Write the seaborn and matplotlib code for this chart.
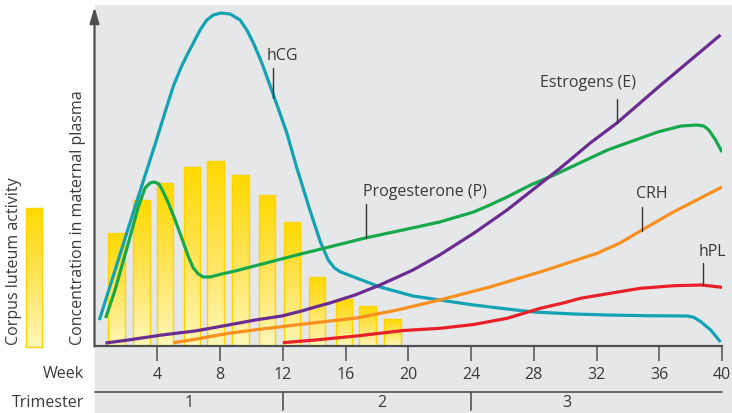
import numpy as np
import pandas as pd
import matplotlib
matplotlib.use("Agg")
import matplotlib.pyplot as plt
from matplotlib.colors import LinearSegmentedColormap
from matplotlib.patches import Rectangle
import seaborn as sns

# ---- data (weeks of gestation, relative concentration units) ----
bar_weeks = [1.4, 3.0, 4.5, 6.2, 7.7, 9.3, 11.0, 12.6, 14.2, 15.9, 17.4, 19.0]
bar_activity = [113, 146, 163, 179, 185, 171, 151, 124, 69, 47, 40, 27]

hcg_weeks = [0.31, 2.48, 3.01, 3.97, 4.5, 5.03, 5.5, 5.9, 6.3, 6.73, 7.16, 7.58, 8.07,
             8.64, 9.28, 9.71, 10.13, 10.67, 11.2, 11.7, 12.26, 12.9, 13.75, 14.4,
             14.9, 15.3, 15.7, 16.7, 18.2, 20.3, 22.0, 24.17, 26.3, 28.0, 30.55,
             32.7, 35.2, 37.78, 38.2, 38.65, 39.28, 39.9]
hcg_vals = [26, 134, 160, 207, 234, 260, 278, 291, 303, 316, 326, 331, 333,
            332, 326, 316, 303, 283, 260, 238, 213, 178, 135, 104,
            86, 78, 74, 68, 59, 50, 46, 41, 37, 34, 32,
            31, 30.3, 30, 28.7, 24.3, 16, 4]

prog_weeks = [0.71, 1.31, 2.16, 2.79, 3.22, 3.54, 3.82, 4.11, 4.39, 4.71, 5.14, 5.56,
              5.99, 6.3, 6.62, 6.94, 7.37, 8.11, 8.96, 12.9, 17.26, 20.55, 22.0,
              24.17, 25.2, 26.3, 27.8, 29.3, 32.7, 35.9, 37.4, 38.4, 38.84, 39.16,
              39.59, 40.0]
prog_vals = [28, 56, 103, 139, 158, 163, 164, 162, 154, 143, 126, 108,
             89, 78, 72, 69, 69, 72, 75, 91, 108, 119, 124,
             134, 141, 149, 161, 171, 196, 214, 220, 221, 220, 216,
             206, 194]

estr_weeks = [0.7, 2.16, 4.29, 6.41, 8.54, 10.24, 11.94, 13.2, 14.07, 15.0, 16.6,
              18.2, 20.3, 22.0, 24.2, 26.3, 29.7, 31.6, 33.3, 36.1, 39.9]
estr_vals = [3, 6, 11, 15, 21, 26, 30, 35, 39, 43, 51,
             61, 76, 91, 113, 136, 178, 203, 223, 261, 311]

crh_weeks = [5.03, 6.41, 8.54, 10.67, 12.79, 14.07, 16.7, 19.3, 22.0, 25.2, 28.4,
             32.04, 33.5, 34.9, 36.9, 40.0]
crh_vals = [3.3, 6.7, 12.7, 17, 21, 23.3, 28, 36, 46, 59, 74,
            92.7, 103, 116, 134, 159]

hpl_weeks = [12.0, 14.07, 16.7, 19.7, 22.04, 24.17, 26.3, 27.36, 28.42, 30.0,
             30.97, 33.1, 34.8, 36.93, 38.7, 40.0]
hpl_vals = [3.3, 6, 10, 15.5, 17.7, 21.5, 27.7, 32.7, 37.7, 43.5,
            47.7, 53.3, 57.7, 60.3, 61, 58.7]

week_ticks = [4, 8, 12, 16, 20, 24, 28, 32, 36, 40]
trimester_bounds = [0, 12, 24, 40]
trimester_labels = ["1", "2", "3"]
trimester_label_pos = [6.0, 18.3, 30.1]

# ---- styling ----
sns.set_theme(style="white")
plt.rcParams["font.family"] = ["Open Sans", "DejaVu Sans"]
TXT = "#3a3a3a"
AX = "#4f4f4f"
BG = "#e6e7e8"
colors = {
    "hCG": "#12a2b3",
    "Progesterone (P)": "#18a84c",
    "Estrogens (E)": "#6a2c91",
    "CRH": "#f7901e",
    "hPL": "#e8202a",
}
gold_cmap = LinearSegmentedColormap.from_list("luteum", ["#fff7b8", "#ffe45a", "#ffd900"])

W, H = 732, 413
fig = plt.figure(figsize=(W / 100, H / 100), dpi=100)
fig.patch.set_facecolor("white")

# grey panel behind plot and axis annotations
fig.patches.append(Rectangle((95 / W, 0), 1 - 95 / W, (H - 5) / H,
                             transform=fig.transFigure, facecolor=BG,
                             edgecolor="none", zorder=-5))

ax = fig.add_axes([94.5 / W, (H - 346) / H, (722 - 94.5) / W, (346 - 5) / H])
ax.set_facecolor("none")
ax.set_zorder(2)

# corpus luteum activity bars
sns.barplot(x=bar_weeks, y=bar_activity, native_scale=True, orient="x",
            width=0.7, ax=ax, color="#ffd900", saturation=1)
grad = np.linspace(0, 1, 256).reshape(-1, 1)
for p in list(ax.patches):
    x0, w, h = p.get_x(), p.get_width(), p.get_height()
    im = ax.imshow(grad, extent=[x0, x0 + w, 0, h], origin="lower",
                   aspect="auto", cmap=gold_cmap, zorder=1.4)
    im.set_clip_path(p)
    p.set_facecolor("none")
    p.set_edgecolor("#ffd400")
    p.set_linewidth(1.0)
    p.set_zorder(1.5)

# hormone curves
series = [
    ("hCG", hcg_weeks, hcg_vals),
    ("Progesterone (P)", prog_weeks, prog_vals),
    ("Estrogens (E)", estr_weeks, estr_vals),
    ("CRH", crh_weeks, crh_vals),
    ("hPL", hpl_weeks, hpl_vals),
]
for name, wk, vals in series:
    df = pd.DataFrame({"week": wk, "conc": vals})
    sns.lineplot(data=df, x="week", y="conc", ax=ax, color=colors[name],
                 linewidth=2.3, solid_capstyle="butt", solid_joinstyle="round",
                 zorder=3)

ax.set_xlim(0, 40)
ax.set_ylim(0, 341)
ax.set_xlabel("")
ax.set_ylabel("")

# curve labels with leader lines: (label, text x, text y, leader x, leader y0, leader y1)
label_specs = [
    ("hCG", 11.0, 290, 11.4, 278, 248),
    ("Progesterone (P)", 17.1, 154.5, 17.3, 142, 108),
    ("Estrogens (E)", 28.4, 263, 33.3, 247, 223),
    ("CRH", 34.5, 151.5, 34.9, 139, 115),
    ("hPL", 38.5, 94.5, 38.8, 83, 61),
]
for name, tx, ty, lx, ly0, ly1 in label_specs:
    ax.text(tx, ty, name, fontsize=11.5, color=TXT, ha="left", va="center")
    ax.plot([lx, lx], [ly0, ly1], color="#333333", lw=1.0, zorder=4)

# axes frame
for s in ["top", "right", "left"]:
    ax.spines[s].set_visible(False)
ax.spines["bottom"].set_color(AX)
ax.spines["bottom"].set_linewidth(1.6)
ax.set_yticks([])
ax.set_xticks(week_ticks)
ax.set_xticklabels([str(t) for t in week_ticks], fontsize=11.5, color=TXT)
ax.tick_params(axis="x", direction="out", length=11, width=1.1, color=AX,
               pad=4, bottom=True)
ax.annotate("", xy=(0, 339), xytext=(0, -0.5), xycoords="data",
            arrowprops=dict(arrowstyle="-|>,head_length=0.95,head_width=0.28",
                            mutation_scale=10, lw=1.6, color=AX,
                            shrinkA=0, shrinkB=0),
            annotation_clip=False)

# trimester scale
ax.plot([0, 40], [-46, -46], color=AX, lw=1.2, clip_on=False)
for b in trimester_bounds[1:-1]:
    ax.plot([b, b], [-46, -64], color=AX, lw=1.2, clip_on=False)
for lab, pos in zip(trimester_labels, trimester_label_pos):
    ax.text(pos, -57, lab, fontsize=11.5, color=TXT, ha="center", va="center",
            clip_on=False)

fig.text(84 / W, (H - 374) / H, "Week", fontsize=11.5, color=TXT,
         ha="right", va="center")
fig.text(84 / W, (H - 403) / H, "Trimester", fontsize=11.5, color=TXT,
         ha="right", va="center")
fig.text(78 / W, (H - 345) / H, "Concentration in maternal plasma", fontsize=11.5,
         color=TXT, rotation=90, ha="center", va="bottom")
fig.text(14 / W, (H - 345) / H, "Corpus luteum activity", fontsize=11.5,
         color=TXT, rotation=90, ha="center", va="bottom")

# corpus luteum scale bar
lax = fig.add_axes([26 / W, (H - 347) / H, 16 / W, 139 / H])
lax.imshow(grad, origin="lower", aspect="auto", cmap=gold_cmap,
           extent=[0, 1, 0, 1])
lax.set_xticks([])
lax.set_yticks([])
for s in lax.spines.values():
    s.set_color("#ffd400")
    s.set_linewidth(1.0)

fig.savefig("out.png", dpi=100)
